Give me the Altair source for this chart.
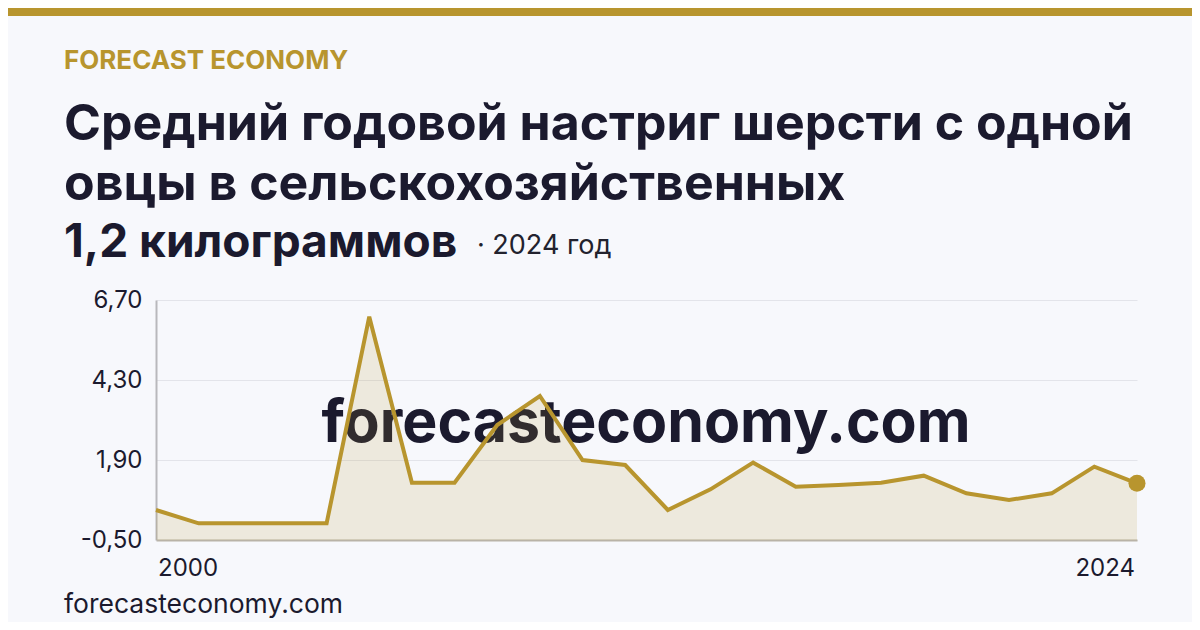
import altair as alt
import pandas as pd

# ---- data ----
years = [2000, 2002, 2003, 2004, 2005, 2006, 2007, 2008, 2009, 2010, 2011, 2012,
         2013, 2014, 2015, 2016, 2017, 2018, 2019, 2020, 2021, 2022, 2023, 2024]
values = [0.40, 0.0, 0.0, 0.0, 0.0, 6.20, 1.22, 1.22, 2.95, 3.82, 1.90, 1.75,
          0.40, 1.02, 1.82, 1.10, 1.15, 1.22, 1.43, 0.90, 0.70, 0.90, 1.70, 1.20]
y_ticks = [-0.5, 1.9, 4.3, 6.7]

brand = "FORECAST ECONOMY"
title_lines = ["Средний годовой настриг шерсти с одной",
               "овцы в сельскохозяйственных",
               "1,2 килограммов"]
subtitle = "· 2024 год"
watermark = "forecasteconomy.com"
footer = "forecasteconomy.com"

GOLD = "#b8952e"
DARK = "#1b1a2e"
BG = "#f7f8fc"
FONT = "Inter"

df = pd.DataFrame({"year": years, "value": values})
df_last = df.tail(1)
df_first = df.head(1)

x_enc = alt.X("year:O", scale=alt.Scale(type="point", padding=0),
              axis=alt.Axis(labels=False, ticks=False, title=None, grid=False,
                            domain=True, domainColor="#b9b3a7", domainWidth=2))
y_enc = alt.Y("value:Q", scale=alt.Scale(domain=[y_ticks[0], y_ticks[-1]], nice=False, zero=False),
              axis=alt.Axis(values=y_ticks, title=None, ticks=False, grid=True,
                            gridColor="#e3e4ea", gridWidth=1,
                            domain=True, domainColor="#b8b8bc", domainWidth=2,
                            labelExpr="replace(replace(format(datum.value, '.2f'), '.', ','), '\u2212', '-')",
                            labelFont=FONT, labelFontSize=24, labelColor=DARK,
                            labelPadding=14))

base = alt.Chart(df)

def txt(s, x, y, size, weight="normal", color=DARK, align="left", font=FONT):
    return alt.Chart(pd.DataFrame({"t": [s]})).mark_text(
        align=align, baseline="alphabetic", font=font, fontSize=size,
        fontWeight=weight, color=color
    ).encode(text="t:N", x=alt.value(x), y=alt.value(y))

wm = txt(watermark, 490, 142, 59, "bold", DARK, "center")

area = base.mark_area(color=GOLD, opacity=0.15).encode(
    x=x_enc, y=y_enc, y2=alt.datum(y_ticks[0]))
line = base.mark_line(color=GOLD, strokeWidth=4).encode(x="year:O", y="value:Q")
pt = alt.Chart(df_last).mark_circle(color=GOLD, opacity=1, size=290).encode(
    x="year:O", y="value:Q")

lab_first = alt.Chart(df_first).mark_text(
    align="left", baseline="alphabetic", font=FONT, fontSize=24, color=DARK, dx=2
).encode(x="year:O", y=alt.value(276), text="year:O")
lab_last = alt.Chart(df_last).mark_text(
    align="right", baseline="alphabetic", font=FONT, fontSize=24, color=DARK, dx=-2
).encode(x="year:O", y=alt.value(276), text="year:O")

bar = alt.Chart(pd.DataFrame({"a": [0]})).mark_rect(color=GOLD).encode(
    x=alt.value(-148), x2=alt.value(1036), y=alt.value(-292), y2=alt.value(-284))

head = [
    txt(brand, -92, -231, 26, "bold", GOLD),
    txt(title_lines[0], -92, -160, 50, "bold"),
    txt(title_lines[1], -92, -100, 50, "bold"),
    txt(title_lines[2], -92, -43, 46, "bold"),
    txt(subtitle, 321, -46, 27, "normal", "#22222e"),
    txt(footer, -92, 313, 26.5, "normal", DARK),
]

chart = alt.layer(wm, area, line, pt, lab_first, lab_last, bar, *head).properties(
    width=981, height=240,
    autosize=alt.AutoSizeParams(type="none"),
    padding={"left": 148, "top": 292, "right": 55, "bottom": 82},
    background=BG,
).configure_view(stroke=None)

chart.save("out.html", embed_options={"renderer": "svg", "actions": False})
